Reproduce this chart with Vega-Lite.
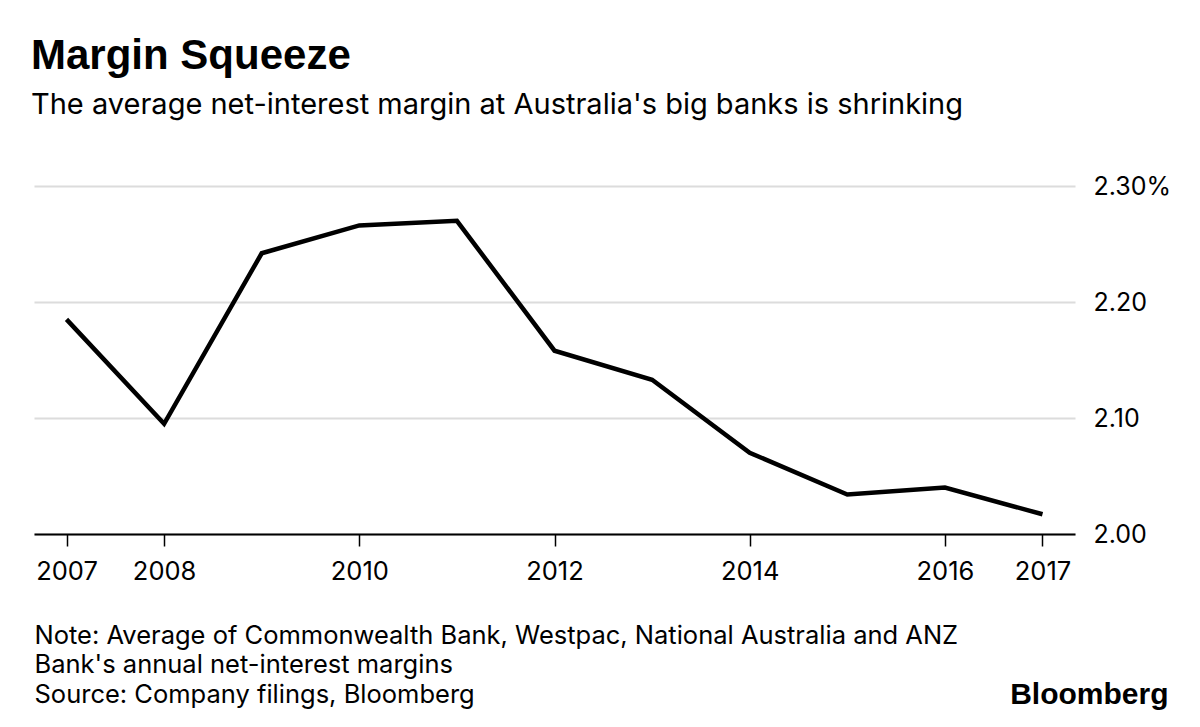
{
  "$schema": "https://vega.github.io/schema/vega-lite/v6.json",
  "width": 1041,
  "height": 348,
  "autosize": {"type": "none"},
  "padding": {"left": 34, "top": 186, "right": 125, "bottom": 193},
  "background": "white",
  "title": {
    "text": "Margin Squeeze",
    "subtitle": "The average net-interest margin at Australia's big banks is shrinking",
    "anchor": "start",
    "frame": "group",
    "font": "Liberation Sans",
    "fontSize": 42,
    "fontWeight": "bold",
    "color": "black",
    "subtitleFont": "Inter",
    "subtitleFontSize": 29,
    "subtitleColor": "black",
    "subtitlePadding": 13,
    "offset": 53,
    "dx": -3
  },
  "data": {
    "values": [
      {"year": 2007, "nim": 2.185},
      {"year": 2008, "nim": 2.095},
      {"year": 2009, "nim": 2.242},
      {"year": 2010, "nim": 2.266},
      {"year": 2011, "nim": 2.270},
      {"year": 2012, "nim": 2.158},
      {"year": 2013, "nim": 2.133},
      {"year": 2014, "nim": 2.070},
      {"year": 2015, "nim": 2.034},
      {"year": 2016, "nim": 2.040},
      {"year": 2017, "nim": 2.017}
    ]
  },
  "mark": {"type": "line", "color": "black", "strokeWidth": 4.5},
  "encoding": {
    "x": {
      "field": "year",
      "type": "quantitative",
      "scale": {"domain": [2006.667, 2017.333], "nice": false, "zero": false},
      "axis": {
        "values": [2007, 2008, 2010, 2012, 2014, 2016, 2017],
        "format": "d",
        "grid": false,
        "domainColor": "black",
        "domainWidth": 2,
        "tickColor": "black",
        "tickWidth": 1.5,
        "tickSize": 12,
        "labelPadding": 13,
        "labelFont": "Inter",
        "labelFontSize": 25.5,
        "labelColor": "black",
        "title": [
          "Note: Average of Commonwealth Bank, Westpac, National Australia and ANZ",
          "Bank's annual net-interest margins",
          "Source: Company filings, Bloomberg"
        ],
        "titleFont": "Inter",
        "titleFontSize": 25.5,
        "titleFontWeight": "normal",
        "titleColor": "black",
        "titleLineHeight": 29.5,
        "titleAlign": "left",
        "titleBaseline": "top",
        "titleX": 0,
        "titleY": 89
      }
    },
    "y": {
      "field": "nim",
      "type": "quantitative",
      "scale": {"domain": [2.0, 2.3], "nice": false, "zero": false},
      "axis": {
        "orient": "right",
        "values": [2.0, 2.1, 2.2, 2.3],
        "labelExpr": "datum.value >= 2.29 ? '2.30%' : format(datum.value, '.2f')",
        "domain": false,
        "ticks": false,
        "grid": true,
        "gridColor": "#dcdcdc",
        "gridWidth": 2,
        "labelPadding": 18,
        "labelFont": "Inter",
        "labelFontSize": 25,
        "labelColor": "black",
        "labelAlign": "left",
        "labelBaseline": "middle",
        "title": "Bloomberg",
        "titleFont": "Liberation Sans",
        "titleFontSize": 30,
        "titleFontWeight": "bold",
        "titleColor": "black",
        "titleAngle": 0,
        "titleAlign": "right",
        "titleBaseline": "alphabetic",
        "titleX": 93,
        "titleY": 517
      }
    }
  },
  "config": {"view": {"stroke": null}}
}
